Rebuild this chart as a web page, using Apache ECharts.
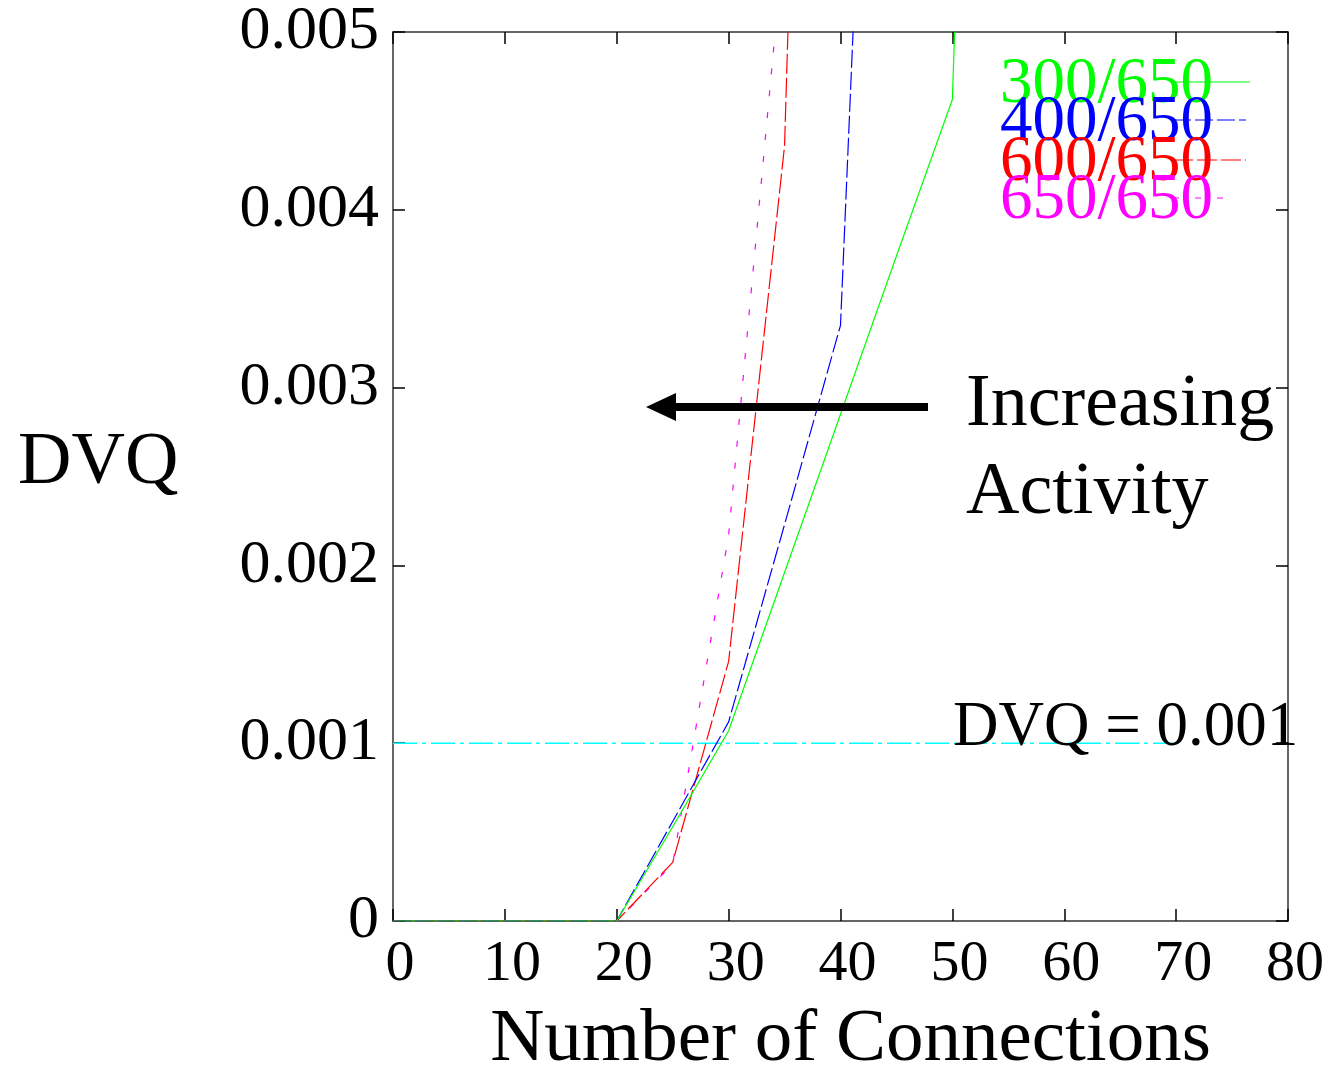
<!DOCTYPE html>
<html>
<head>
<meta charset="utf-8">
<script src="https://cdn.jsdelivr.net/npm/echarts@6/dist/echarts.min.js"></script>
<style>
html,body{margin:0;padding:0;background:#fff;}
#chart{width:1338px;height:1065px;}
</style>
</head>
<body>
<div id="chart"></div>
<script>
// ---- data ----
var connections = [0, 5, 10, 15, 20, 25, 30, 35, 40, 45, 50, 55];
var dvq300 = [0, 0, 0, 0, 0, 0.00053, 0.00107, 0.00196, 0.00285, 0.00374, 0.00462, 0.0141];
var dvq400 = [0, 0, 0, 0, 0, 0.00056, 0.00112, 0.00223, 0.00335, 0.0107];
var dvq600 = [0, 0, 0, 0, 0, 0.00033, 0.00146, 0.00436, 0.0150];
var dvq650 = [0, 0, 0, 0, 0, 0.00032, 0.00217, 0.00557];
var thresholdX = [0, 70];
var thresholdY = [0.001, 0.001];
var seriesNames = ['300/650', '400/650', '600/650', '650/650'];
var seriesColors = ['#00ff00', '#0000ff', '#ff0000', '#ff00ff'];
var xTicks = [0, 10, 20, 30, 40, 50, 60, 70, 80];
var yTicks = [0, 0.001, 0.002, 0.003, 0.004, 0.005];

function pairs(xs, ys) {
  var out = [];
  for (var i = 0; i < ys.length; i++) out.push([xs[i], ys[i]]);
  return out;
}

var FONT = '"Liberation Serif", "Times New Roman", serif';
var chart = echarts.init(document.getElementById('chart'));

var dashes = [null, [18, 4], [20, 4], [6, 16]];
var allData = [dvq300, dvq400, dvq600, dvq650];
var series = allData.map(function (d, i) {
  return {
    name: seriesNames[i],
    type: 'line',
    data: pairs(connections, d),
    showSymbol: false,
    symbol: 'none',
    clip: true,
    lineStyle: { color: seriesColors[i], width: 1.2, type: dashes[i] || 'solid' },
    z: 3 + (3 - i)
  };
});
series.push({
  name: 'DVQ = 0.001',
  type: 'line',
  data: pairs(thresholdX, thresholdY),
  showSymbol: false,
  symbol: 'none',
  lineStyle: { color: '#00ffff', width: 1.5, type: [24, 5, 4, 5] },
  z: 2
});

function axisLine() { return { show: true, onZero: false, lineStyle: { color: '#333', width: 1.5 } }; }
function tickStyle() { return { show: true, inside: true, length: 12, lineStyle: { color: '#000', width: 1.5 } }; }

var legendGraphics = [];
var legendY = [82, 120, 160, 198];
var legendEnd = [1250, 1246, 1246, 1230];
for (var i = 0; i < seriesNames.length; i++) {
  legendGraphics.push({
    type: 'line',
    shape: { x1: 1173, y1: legendY[i], x2: legendEnd[i], y2: legendY[i] },
    style: { stroke: seriesColors[i], lineWidth: 1.2, lineDash: dashes[i] || null },
    z: 10
  });
  legendGraphics.push({
    type: 'text',
    left: 1000, top: legendY[i] - 30,
    style: { text: seriesNames[i], fill: seriesColors[i], font: '65px ' + FONT },
    z: 11
  });
}

var option = {
  animation: false,
  backgroundColor: '#fff',
  grid: { left: 393, right: 50, top: 32, bottom: 144, containLabel: false, outerBoundsMode: 'none' },
  xAxis: [{
    type: 'value', min: 0, max: 80, interval: 10,
    axisLine: axisLine(), axisTick: tickStyle(), splitLine: { show: false },
    axisLabel: { fontFamily: FONT, fontSize: 58, color: '#000', margin: 15, padding: [0, 0, 0, 14] },
    name: 'Number of Connections', nameLocation: 'middle', nameGap: 82,
    nameTextStyle: { fontFamily: FONT, fontSize: 75, color: '#000', padding: [0, 0, 0, 20] }
  }, {
    type: 'value', min: 0, max: 80, interval: 10, position: 'top',
    axisLine: axisLine(), axisTick: tickStyle(), splitLine: { show: false },
    axisLabel: { show: false }
  }],
  yAxis: [{
    type: 'value', min: 0, max: 0.005, interval: 0.001,
    axisLine: axisLine(), axisTick: tickStyle(), splitLine: { show: false },
    axisLabel: { fontFamily: FONT, fontSize: 62, color: '#000', margin: 14 }
  }, {
    type: 'value', min: 0, max: 0.005, interval: 0.001, position: 'right',
    axisLine: axisLine(), axisTick: tickStyle(), splitLine: { show: false },
    axisLabel: { show: false }
  }],
  series: series,
  graphic: legendGraphics.concat([
    { type: 'text', left: 18, top: 427, style: { text: 'DVQ', fill: '#000', font: '74px ' + FONT }, z: 12 },
    { type: 'rect', shape: { x: 668, y: 403, width: 260, height: 8 }, style: { fill: '#000' }, z: 12 },
    { type: 'polygon', shape: { points: [[646, 407], [676, 393], [676, 421]] }, style: { fill: '#000' }, z: 12 },
    { type: 'text', left: 966, top: 369, style: { text: 'Increasing', fill: '#000', font: '74px ' + FONT }, z: 12 },
    { type: 'text', left: 966, top: 457, style: { text: 'Activity', fill: '#000', font: '74px ' + FONT }, z: 12 },
    { type: 'text', left: 953, top: 697, style: { text: 'DVQ = 0.001', fill: '#000', font: '63px ' + FONT }, z: 12 }
  ])
};
chart.setOption(option);
</script>
</body>
</html>
